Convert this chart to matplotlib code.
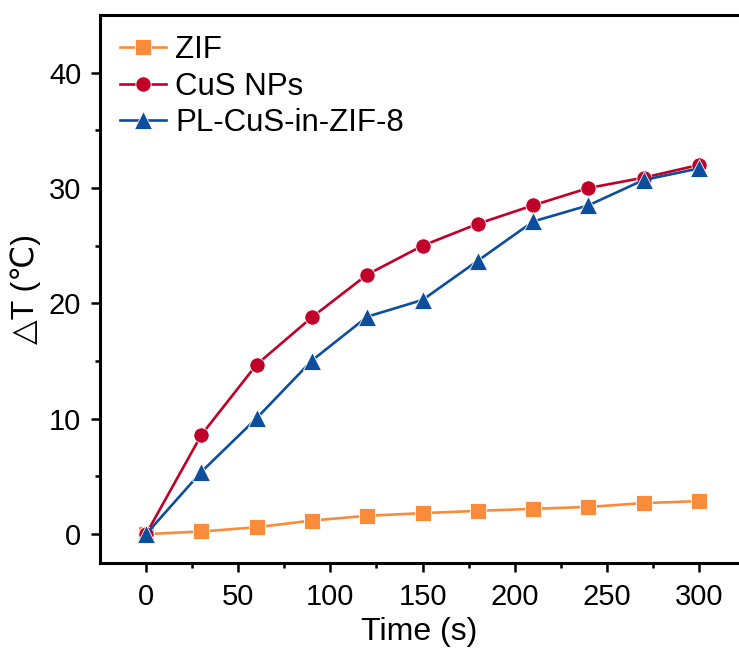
import matplotlib
matplotlib.use("Agg")
import matplotlib.pyplot as plt

plt.rcParams['font.family'] = ['Liberation Sans', 'DejaVu Sans']

time = [0, 30, 60, 90, 120, 150, 180, 210, 240, 270, 300]
zif = [0, 0.23, 0.6, 1.18, 1.59, 1.82, 2.02, 2.19, 2.36, 2.69, 2.86]
cus = [0, 8.6, 14.7, 18.8, 22.5, 25.0, 26.9, 28.5, 30.0, 30.9, 32.0]
pl_cus = [0, 5.4, 10.05, 15.05, 18.85, 20.3, 23.7, 27.1, 28.5, 30.7, 31.7]

fig = plt.figure(figsize=(7.39, 6.57), dpi=100)
ax = fig.add_axes([0.1353, 0.1431, 0.8647, 0.8341])

ax.plot(time, zif, color='#F98B3B', lw=1.9, marker='s', ms=11,
        mec='white', mew=0.6, label='ZIF')
ax.plot(time, cus, color='#C00028', lw=1.9, marker='o', ms=11,
        mec='white', mew=0.6, label='CuS NPs')
ax.plot(time, pl_cus, color='#0D4E9C', lw=1.9, marker='^', ms=12.5,
        mec='white', mew=0.6, label='PL-CuS-in-ZIF-8')

ax.set_xlim(-25, 321.7)
ax.set_ylim(-2.5, 45)
ax.set_xticks(range(0, 301, 50))
ax.set_xticks(range(25, 301, 50), minor=True)
ax.set_yticks(range(0, 41, 10))
ax.set_yticks(range(5, 45, 10), minor=True)

ax.spines['right'].set_visible(False)
for s in ['left', 'top', 'bottom']:
    ax.spines[s].set_linewidth(2.2)
ax.tick_params(which='major', direction='out', length=6.5, width=1.8,
               labelsize=21, pad=7)
ax.tick_params(which='minor', direction='out', length=3.5, width=1.8)
ax.tick_params(axis='x', which='major', pad=8)

ax.set_xlabel('Time (s)', fontsize=23, labelpad=4)
ax.set_ylabel('△T (℃)', fontsize=23, labelpad=6)

ax.legend(loc='upper left', frameon=False, fontsize=22.5, handlelength=1.45,
          handletextpad=0.3, labelspacing=0.2, borderaxespad=0.35,
          borderpad=0.3, bbox_to_anchor=(0.0, 1.0))

fig.savefig('out.png', dpi=100)
